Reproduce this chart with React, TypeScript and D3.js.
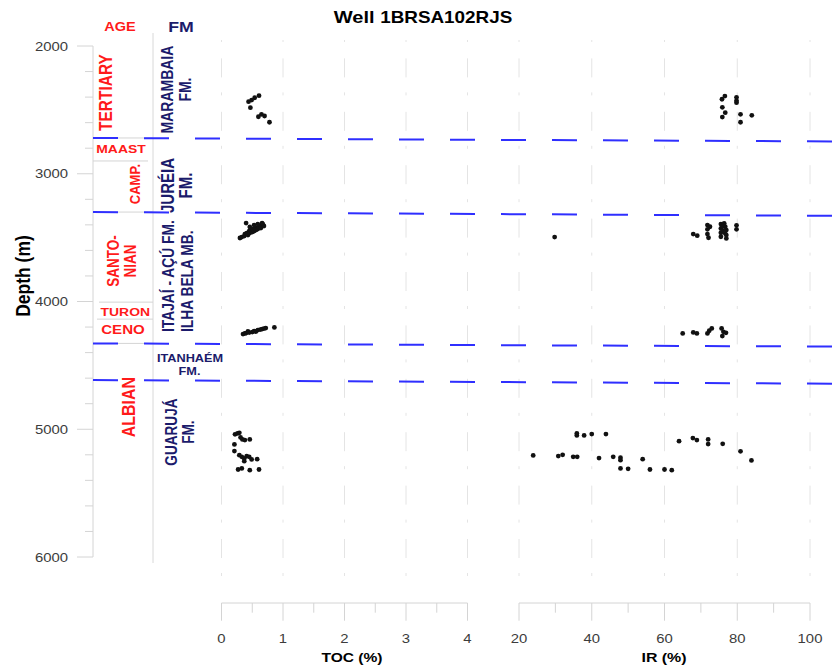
import React from "react";
import * as d3 from "d3";

// ---------- DATA ----------
const depthTicks = [2000, 3000, 4000, 5000, 6000];
const tocTicks = [0, 1, 2, 3, 4];
const irTicks = [20, 40, 60, 80, 100];

const tocPercent = [
  0.44, 0.49, 0.54, 0.61, 0.47, 0.6, 0.65, 0.7, 0.78,
  0.3, 0.33, 0.37, 0.38, 0.41, 0.43, 0.45, 0.46, 0.48, 0.5, 0.51, 0.53, 0.54, 0.56, 0.58, 0.59, 0.61, 0.63, 0.64, 0.66, 0.67, 0.69, 0.4, 0.46, 0.53, 0.59, 0.66,
  0.35, 0.38, 0.4, 0.43, 0.45, 0.5, 0.53, 0.56, 0.59, 0.63, 0.66, 0.69, 0.72, 0.86,
  0.22, 0.26, 0.29, 0.31, 0.34, 0.38, 0.46, 0.21, 0.21, 0.29, 0.33, 0.37, 0.41, 0.45, 0.49, 0.58, 0.37, 0.27, 0.33, 0.46, 0.61,
];
const tocDepth = [
  2436, 2423, 2405, 2389, 2483, 2554, 2535, 2548, 2597,
  3503, 3496, 3488, 3472, 3464, 3480, 3449, 3464, 3441, 3456, 3433, 3449, 3425, 3441, 3425, 3433, 3417, 3409, 3425, 3402, 3394, 3409, 3386, 3417, 3402, 3394, 3386,
  4255, 4250, 4247, 4235, 4243, 4239, 4232, 4235, 4224, 4220, 4216, 4212, 4208, 4203,
  5040, 5033, 5028, 5064, 5080, 5085, 5080, 5119, 5171, 5203, 5216, 5228, 5210, 5216, 5236, 5234, 5250, 5315, 5307, 5320, 5315,
];

const irPercent = [
  75.8, 76.6, 75.9, 76.7, 75.9, 79.8, 79.8, 79.8, 80.9, 84.0, 80.9,
  67.9, 69.0, 71.8, 72.5, 71.8, 71.8, 72.1, 75.5, 75.5, 75.5, 75.5, 76.4, 76.7, 77.0, 76.7, 77.0, 76.0, 79.8, 79.8, 29.8, 76.0, 77.0,
  65.0, 67.9, 68.9, 71.8, 72.3, 73.0, 75.7, 76.2, 76.9, 75.9,
  23.9, 30.8, 32.0, 34.9, 36.0, 35.9, 35.9, 37.9, 40.0, 43.9, 42.0, 45.9, 47.9, 47.9, 47.9, 50.0, 54.0, 56.0, 60.0, 62.0, 64.0, 67.8, 68.9, 72.0, 72.0, 76.0, 80.9, 83.9,
];
const irDepth = [
  2417, 2392, 2480, 2522, 2556, 2402, 2428, 2444, 2535, 2543, 2597,
  3472, 3485, 3402, 3415, 3435, 3472, 3501, 3394, 3428, 3462, 3493, 3388, 3415, 3441, 3467, 3506, 3446, 3404, 3435, 3496, 3410, 3480,
  4250, 4242, 4250, 4250, 4229, 4211, 4211, 4237, 4245, 4271,
  5205, 5210, 5200, 5216, 5216, 5033, 5048, 5048, 5038, 5038, 5226, 5216, 5223, 5242, 5307, 5310, 5234, 5315, 5315, 5320, 5093, 5069, 5085, 5080, 5116, 5114, 5173, 5244,
];

// formation boundaries (depth at left end, depth at right end)
const boundaryDepthLeft = [2720, 3300, 4328, 4615];
const boundaryDepthRight = [2747, 3329, 4353, 4643];

// age column separator depths
const ageSeparatorDepths = [2720, 2900, 3300, 4005, 4138, 4328];

// ---------- LAYOUT ----------
const W = 840;
const H = 666;
const FONT = "'Liberation Sans', Arial, Helvetica, sans-serif";
const SX = 1.18;
const RED = "#ff1a1a";
const NAVY = "#1b1b6b";

const yScale = d3.scaleLinear().domain([2000, 6000]).range([46, 557]);
const xToc = d3.scaleLinear().domain([0, 4]).range([221.5, 467.5]);
const xIr = d3.scaleLinear().domain([20, 100]).range([519, 810]);

const axisX = 93;
const dividerX = 153;
const bottomAxisY = 603;
const sepX1 = [93, 93, 93, 99, 97, 93];
const sepX2 = [153, 148, 153, 153, 153, 153];

type LP = {
  x: number;
  y: number;
  size: number;
  fill?: string;
  weight?: string;
  rot?: number;
  anchor?: string;
  dy?: string;
  children?: React.ReactNode;
};

function Label({ x, y, size, fill = "#000", weight = "bold", rot = 0, anchor = "middle", dy = "0.36em", children }: LP) {
  return (
    <text
      transform={`translate(${x},${y}) scale(${SX},1)${rot ? ` rotate(${rot})` : ""}`}
      fontSize={size}
      fontWeight={weight}
      fill={fill}
      textAnchor={anchor as any}
      dy={dy}
      fontFamily={FONT}
    >
      {children}
    </text>
  );
}

export default function App() {
  const depthMinor = d3.range(2000, 6001, 200);
  const tocMinor = d3.range(0, 4.01, 0.5);
  const irMinor = d3.range(20, 100.1, 10);
  const gridXs = [...tocTicks.map((t) => xToc(t)), ...irTicks.map((t) => xIr(t))];

  return (
    <svg width={W} height={H} style={{ position: "absolute", left: 0, top: 0, background: "#fff" }}>
      <rect width={W} height={H} fill="#fff" />

      {/* vertical grid lines */}
      {gridXs.map((gx, i) => (
        <line key={"g" + i} x1={gx} x2={gx} y1={40} y2={590} stroke="#e4e4e4" strokeWidth={1} strokeDasharray="19 15 3 16.4" strokeDashoffset={35} />
      ))}

      {/* title */}
      <text x={423} y={17} dy="0.36em" textAnchor="middle" fontFamily={FONT} fontWeight="bold" transform={`translate(${423 * (1 - SX)},0) scale(${SX},1)`}>
        <tspan fontSize={17}>Well </tspan>
        <tspan fontSize={16}>1BRSA102RJS</tspan>
      </text>

      {/* depth axis */}
      <line x1={axisX} x2={axisX} y1={yScale(2000)} y2={yScale(6000)} stroke="#d4d4d4" />
      {depthMinor.map((d) => (
        <line key={"dm" + d} x1={depthTicks.includes(d) ? 77 : 85} x2={axisX} y1={yScale(d)} y2={yScale(d)} stroke="#d4d4d4" />
      ))}
      {depthTicks.map((d) => (
        <Label key={"dl" + d} x={68} y={yScale(d)} size={12.6} weight="normal" fill="#3c3c3c" anchor="end">
          {d}
        </Label>
      ))}
      <Label x={23} y={276} size={17.5} rot={-90}>Depth (m)</Label>

      {/* column divider */}
      <line x1={dividerX} x2={dividerX} y1={33} y2={563} stroke="#d8d8d8" />

      {/* age separators */}
      {ageSeparatorDepths.map((d, i) => (
        <line key={"as" + i} x1={sepX1[i]} x2={sepX2[i]} y1={yScale(d)} y2={yScale(d)} stroke="#d4d4d4" />
      ))}

      {/* headers */}
      <Label x={120} y={27} size={12.3} fill={RED}>AGE</Label>
      <Label x={181} y={27} size={15} fill={NAVY}>FM</Label>

      {/* age labels */}
      <Label x={105.8} y={yScale(2364)} size={15.5} fill={RED} rot={-90}>TERTIARY</Label>
      <Label x={121} y={yScale(2806)} size={11.8} fill={RED}>MAAST</Label>
      <Label x={134.5} y={yScale(3081)} size={13} fill={RED} rot={-90}>CAMP.</Label>
      <Label x={113.5} y={yScale(3683)} size={13.5} fill={RED} rot={-90}>SANTO-</Label>
      <Label x={130} y={yScale(3683)} size={13.5} fill={RED} rot={-90}>NIAN</Label>
      <Label x={125.3} y={yScale(4083)} size={11.8} fill={RED}>TURON</Label>
      <Label x={123} y={yScale(4216)} size={12.8} fill={RED}>CENO</Label>
      <Label x={128.3} y={yScale(4827)} size={16} fill={RED} rot={-90}>ALBIAN</Label>

      {/* formation labels */}
      <Label x={167.5} y={yScale(2341)} size={14} fill={NAVY} rot={-90}>MARAMBAIA</Label>
      <Label x={185} y={yScale(2341)} size={14} fill={NAVY} rot={-90}>FM.</Label>
      <Label x={167.5} y={yScale(3092)} size={15} fill={NAVY} rot={-90}>JURÉIA</Label>
      <Label x={185.8} y={yScale(3092)} size={15} fill={NAVY} rot={-90}>FM.</Label>
      <Label x={168.3} y={yScale(4239)} size={13.8} fill={NAVY} rot={-90} anchor="start">ITAJAÍ - AÇÚ FM.</Label>
      <Label x={186.7} y={yScale(4239)} size={13.8} fill={NAVY} rot={-90} anchor="start">ILHA BELA MB.</Label>
      <Label x={190} y={yScale(4443)} size={10.8} fill={NAVY}>ITANHAÉM</Label>
      <Label x={189.5} y={yScale(4545)} size={10.8} fill={NAVY}>FM.</Label>
      <Label x={170.8} y={yScale(5022)} size={13.6} fill={NAVY} rot={-90}>GUARUJÁ</Label>
      <Label x={188} y={yScale(5022)} size={13.6} fill={NAVY} rot={-90}>FM.</Label>

      {/* boundaries */}
      {boundaryDepthLeft.map((d, i) => (
        <line key={"b" + i} x1={93} x2={833} y1={yScale(d)} y2={yScale(boundaryDepthRight[i])} stroke="#2f2fff" strokeWidth={2} strokeDasharray="25 26" />
      ))}

      {/* points */}
      {tocPercent.map((v, i) => (
        <circle key={"t" + i} cx={xToc(v)} cy={yScale(tocDepth[i])} r={2.4} fill="#111" />
      ))}
      {irPercent.map((v, i) => (
        <circle key={"r" + i} cx={xIr(v)} cy={yScale(irDepth[i])} r={2.4} fill="#111" />
      ))}

      {/* bottom axes */}
      <line x1={xToc(0)} x2={xToc(4)} y1={bottomAxisY} y2={bottomAxisY} stroke="#d4d4d4" />
      {tocMinor.map((t) => (
        <line key={"tm" + t} x1={xToc(t)} x2={xToc(t)} y1={bottomAxisY} y2={Number.isInteger(t) ? 620.7 : 612.7} stroke="#d4d4d4" />
      ))}
      {tocTicks.map((t) => (
        <Label key={"tl" + t} x={xToc(t)} y={638} size={12.6} weight="normal" fill="#3c3c3c">{t}</Label>
      ))}
      <line x1={xIr(20)} x2={xIr(100)} y1={bottomAxisY} y2={bottomAxisY} stroke="#d4d4d4" />
      {irMinor.map((t) => (
        <line key={"im" + t} x1={xIr(t)} x2={xIr(t)} y1={bottomAxisY} y2={t % 20 === 0 ? 620.7 : 612.7} stroke="#d4d4d4" />
      ))}
      {irTicks.map((t) => (
        <Label key={"il" + t} x={xIr(t)} y={638} size={12.6} weight="normal" fill="#3c3c3c">{t}</Label>
      ))}
      <Label x={352} y={657} size={13.2}>TOC (%)</Label>
      <Label x={664} y={657} size={13.5}>IR (%)</Label>
    </svg>
  );
}
